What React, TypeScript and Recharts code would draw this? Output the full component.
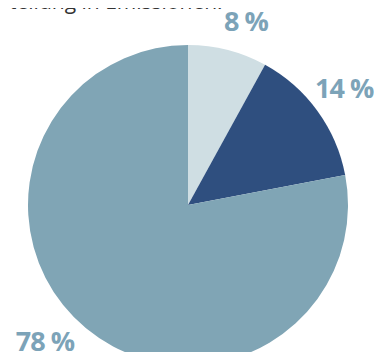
import { PieChart, Pie, Cell } from "recharts";

const categories = ["A", "B", "C"];
const shares = [8, 14, 78];
const labels = ["8 %", "14 %", "78 %"];
const colors = ["#cfdee3", "#2f4f7f", "#80a5b5"];

const data = categories.map((name, i) => ({ name, value: shares[i] }));

const RAD = Math.PI / 180;
// small hand nudges so the labels sit where the original puts them
const nudges = [
  [10, 2],
  [0, -4],
  [-20, -13],
];

function renderLabel(props: any) {
  const { cx, cy, midAngle, outerRadius, index } = props;
  const r = outerRadius + 33;
  const x = cx + r * Math.cos(-midAngle * RAD) + nudges[index][0];
  const y = cy + r * Math.sin(-midAngle * RAD) + nudges[index][1];
  return (
    <text
      x={x}
      y={y}
      textAnchor="middle"
      dominantBaseline="central"
      fill="#7ca3b8"
      fontFamily="'Open Sans', sans-serif"
      fontWeight={700}
      fontSize={27}
      letterSpacing={-1}
    >
      {labels[index]}
    </text>
  );
}

export default function App() {
  return (
    <div style={{ position: "relative", width: 382, height: 360, margin: -8, overflow: "hidden", background: "#fff" }}>
      <svg width={382} height={40} style={{ position: "absolute", left: 0, top: 0 }}>
        <text x={-1} y={9} fill="#333" fontFamily="'Open Sans', sans-serif" fontSize={21}>
          stellung in Emissionen:
        </text>
      </svg>
      <PieChart
        width={382}
        height={360}
        margin={{ top: 0, right: 0, bottom: 0, left: 0 }}
        style={{ position: "absolute", left: 0, top: 0 }}
      >
        <Pie
          data={data}
          dataKey="value"
          cx={188}
          cy={205}
          outerRadius={160}
          startAngle={90}
          endAngle={-270}
          stroke="none"
          label={renderLabel}
          labelLine={false}
          isAnimationActive={false}
        >
          {data.map((d, i) => (
            <Cell key={d.name} fill={colors[i]} />
          ))}
        </Pie>
      </PieChart>
    </div>
  );
}
